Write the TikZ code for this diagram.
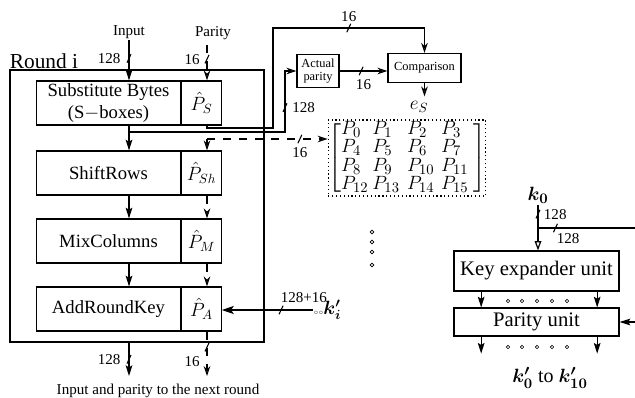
\documentclass[tikz,border=0pt]{standalone}
\usepackage{amsmath}
\usepackage{bm}
\usepackage{fontspec}
\setmainfont{Liberation Serif}
\usetikzlibrary{arrows.meta}

\tikzset{tick/.pic={\draw[solid,-,line width=0.8pt] (-1.5pt,-3.2pt) -- (1.5pt,3.2pt);}}
\newcommand{\pe}[2]{\makebox[#2][l]{$P_{#1}$}}

\begin{document}
\begin{tikzpicture}[x=0.75pt, y=-0.75pt, line width=0.9pt,
    block/.style={draw, minimum width=107.5pt, minimum height=33pt, inner sep=0pt, align=center, font=\fontsize{14}{16}\selectfont},
    pblock/.style={draw, minimum width=29.5pt, minimum height=33pt, inner sep=0pt, font=\fontsize{14}{16}\selectfont},
    unit/.style={draw, minimum width=123.75pt, inner sep=0pt, font=\fontsize{15.5}{17}\selectfont},
    small/.style={draw, inner sep=0pt, align=center, font=\fontsize{9.3}{10}\selectfont},
    lbl/.style={inner sep=1pt, font=\fontsize{11.3}{13}\selectfont},
    arr/.style={-{Stealth[length=8pt,width=5pt,inset=1.5pt]}},
    parr/.style={-{Stealth[open,length=7.5pt,width=5pt]}},
    pdash/.style={dash pattern=on 6pt off 6pt}
    ]
\useasboundingbox (0,0) rectangle (635,397);

% round i
\node[draw, minimum width=190.5pt, minimum height=204pt] (round) at (137,206) {};
\node[font=\fontsize{16}{18}\selectfont, inner sep=0pt] (roundlbl) at (44,61) {Round i};
\node[lbl] (input) at (129,32) {Input};
\node[lbl] (parity) at (213,33) {Parity};
\coordinate (pcol) at (207,45);

\node[block] (sbox) at (108.5,103) {Substitute Bytes\\(S$-$boxes)};
\node[pblock] (psbox) at (201.5,103) {$\hat{P}_S$};
\node[block] (shift) at (108.5,173) {ShiftRows};
\node[pblock] (pshift) at (201.5,173) {$\hat{P}_{Sh}$};
\node[block] (mix) at (108.5,241) {MixColumns};
\node[pblock] (pmix) at (201.5,241) {$\hat{P}_M$};
\node[block] (add) at (108.5,309) {AddRoundKey};
\node[pblock] (padd) at (201.5,309) {$\hat{P}_A$};

% parity check
\node[small, minimum width=31.5pt, minimum height=24.75pt] (actual) at (318,71) {Actual\\parity};
\node[small, minimum width=54.75pt, minimum height=21.75pt] (comp) at (424.5,68) {Comparison};
\node[font=\fontsize{14}{16}\selectfont] (es) at (419,107) {$e_S$};
\node[draw, dotted, minimum width=114pt, minimum height=57pt, inner sep=0pt,
      font=\fontsize{15}{12.9}\selectfont] (pmat) at (407,158)
  {$\left[\begin{array}{@{}l@{}l@{}l@{}l@{}}
    \pe{0}{23.5pt} & \pe{1}{26pt} & \pe{2}{25.5pt} & \pe{3}{24pt}\\
    \pe{4}{23.5pt} & \pe{5}{26pt} & \pe{6}{25.5pt} & \pe{7}{24pt}\\
    \pe{8}{23.5pt} & \pe{9}{26pt} & \pe{10}{25.5pt} & \pe{11}{24pt}\\
    \pe{12}{23.5pt} & \pe{13}{26pt} & \pe{14}{25.5pt} & \pe{15}{24pt}
  \end{array}\right]$};

\draw[arr] (input) -- (input |- sbox.north) pic[pos=.45]{tick} node[lbl, pos=.45, left=5pt] {128};
\draw[parr, pdash] (pcol) -- (pcol |- psbox.north) pic[pos=.4]{tick} node[lbl, pos=.4, left=4pt] {16};

\coordinate (br) at (129,132);
\coordinate (c2) at (285,132);
\coordinate (c1) at (285,71);
\draw[arr] (input |- sbox.south) -- (input |- shift.north);
\draw[parr] (br) -- (c2) -- (c1) pic[pos=.4]{tick} node[lbl, pos=.4, right=4pt] {128} -- (actual.west);

\coordinate (c4) at (207,128);
\coordinate (c3) at (273,28);
\draw[parr] (psbox.south -| pcol) -- (c4) -| (c3) -| (comp.north) pic[pos=.25]{tick} node[lbl, pos=.25, above=3pt] {16};
\draw[parr] (actual.east) -- (actual.east -| comp.west) pic[pos=.45]{tick} node[lbl, pos=.5, below=5pt] {16};
\draw[parr] (comp.south) -- (comp.south |- es.north);

\coordinate (c5) at (207,139);
\draw[parr, pdash] (c5) -- (c5 -| pmat.west) pic[pos=.77]{tick} node[lbl, pos=.77, below=5pt] {16};
\draw[parr] (c5) -- (pcol |- pshift.north);

\draw[arr] (input |- shift.south) -- (input |- mix.north);
\draw[parr, pdash] (pcol |- pshift.south) -- (pcol |- pmix.north);
\draw[arr] (input |- mix.south) -- (input |- add.north);
\draw[parr, pdash] (pcol |- pmix.south) -- (pcol |- padd.north);

% to the next round
\coordinate (outd) at (129,376);
\coordinate (outp) at (207,376);
\draw[arr] (input |- round.south) -- (outd) pic[pos=.5]{tick} node[lbl, pos=.5, left=5pt] {128};
\draw[parr, pdash] (pcol |- padd.south) -- (outp) pic[pos=.35]{tick} node[lbl, pos=.68, left=4pt] {16};
\node[lbl] (next) at (158,391) {Input and parity to the next round};

% round key
\node[anchor=west, inner sep=0pt, font=\fontsize{14}{16}\selectfont] (ki) at (313,310) {{\tiny$\circ\circ$}$\bm{k'_i}$};
\draw[-{Stealth[length=9pt,width=6pt,inset=2pt]}] (ki.west) -- (ki.west -| padd.east) pic[pos=.35]{tick} node[lbl, pos=.1, above=4pt] {128+16};
\foreach \y in {232,242,252,265}
  \draw[line width=0.5pt] (372,\y) circle (1.4pt);

% key expansion
\node[font=\fontsize{15}{17}\selectfont, inner sep=1pt] (k0) at (538,195) {$\bm{k_0}$};
\node[unit, minimum height=30pt] (kexp) at (536.5,271) {Key expander unit};
\node[unit, minimum height=21pt] (punit) at (536.5,322) {Parity unit};
\coordinate (kout) at (635,228);
\coordinate (pin) at (635,322);
\draw[-{Triangle[open,length=7pt,width=5pt]}] (k0.south) -- (k0.south |- kexp.north) pic[pos=.2]{tick} node[lbl, pos=.2, right=3pt] {128};
\draw (k0.south |- kout) -- (kout) pic[pos=.18]{tick} node[lbl, pos=.31, below=3pt] {128};
\foreach \s in {-41.5pt,45.5pt} {
  \draw[arr] ([xshift=\s]kexp.south) -- ([xshift=\s]punit.north);
  \draw[arr] ([xshift=\s]punit.south) -- ++(0,17);
}
\foreach \x in {508,522,537,552,567} {
  \draw[line width=0.5pt] (\x,301) circle (1.3pt);
  \draw[line width=0.5pt] (\x,347) circle (1.3pt);
}
\draw[arr] (pin) -- (punit.east);
\node[font=\fontsize{15}{17}\selectfont] (klist) at (550,378) {$\bm{k'_0}$ to $\bm{k'_{10}}$};
\end{tikzpicture}
\end{document}
